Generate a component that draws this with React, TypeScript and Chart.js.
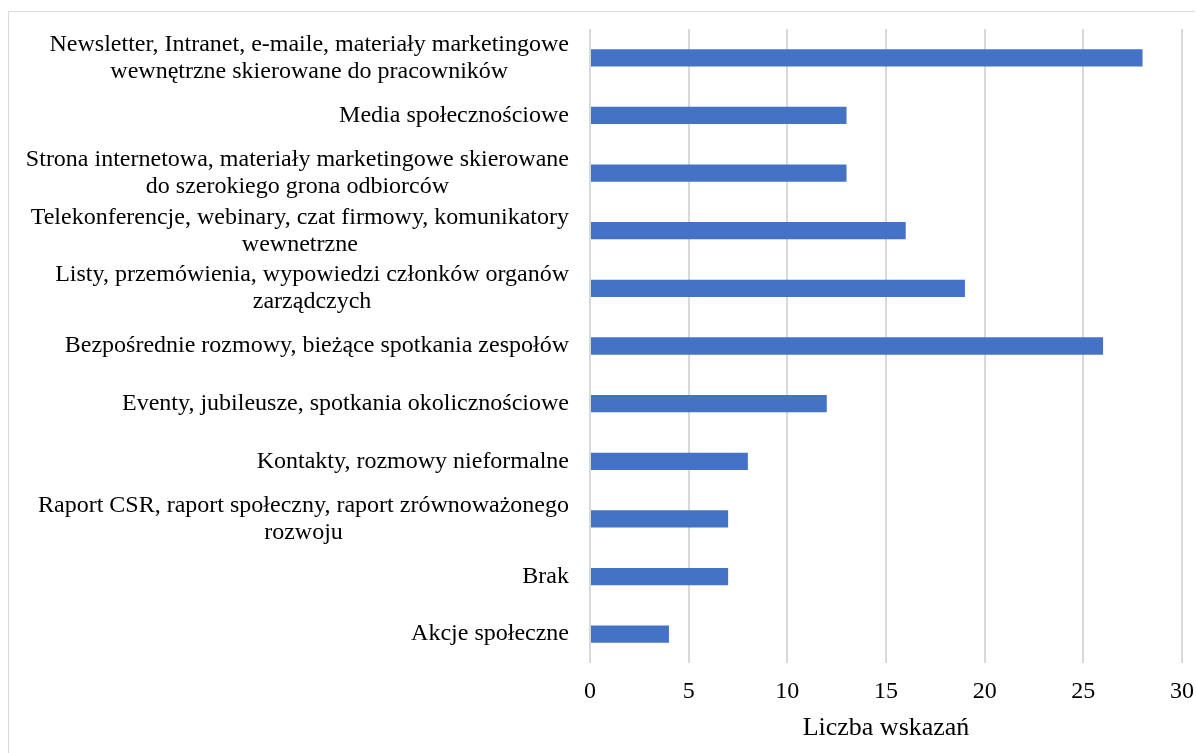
import React, { useEffect, useRef } from "react";
import { Chart, registerables } from "chart.js";

Chart.register(...registerables);

const categories: (string | string[])[] = [
  ["Newsletter, Intranet, e-maile, materiały marketingowe", "wewnętrzne skierowane do pracowników"],
  "Media społecznościowe",
  ["Strona internetowa, materiały marketingowe skierowane", "do szerokiego grona odbiorców"],
  ["Telekonferencje, webinary, czat firmowy, komunikatory", "wewnetrzne"],
  ["Listy, przemówienia, wypowiedzi członków organów", "zarządczych"],
  "Bezpośrednie rozmowy, bieżące spotkania zespołów",
  "Eventy, jubileusze, spotkania okolicznościowe",
  "Kontakty, rozmowy nieformalne",
  ["Raport CSR, raport społeczny, raport zrównoważonego", "rozwoju"],
  "Brak",
  "Akcje społeczne",
];

const values: number[] = [28, 13, 13, 16, 19, 26, 12, 8, 7, 7, 4];

const axisTitle = "Liczba wskazań";

const FONT = '"Liberation Serif", "Times New Roman", serif';
const LINE_H = 27;

const yLabelPlugin = {
  id: "yLabels",
  afterDraw(chart: any) {
    const ctx = chart.ctx;
    const y = chart.scales.y;
    ctx.save();
    ctx.font = `24px ${FONT}`;
    ctx.fillStyle = "#000000";
    ctx.textBaseline = "middle";
    ctx.textAlign = "center";
    const right = chart.chartArea.left - 21;
    categories.forEach((lab, i) => {
      const lines = Array.isArray(lab) ? lab : [lab];
      const w = Math.max(...lines.map((l) => ctx.measureText(l).width));
      const cx = right - w / 2;
      const cy = y.getPixelForTick(i);
      lines.forEach((l, j) => {
        ctx.fillText(l, cx, cy + (j - (lines.length - 1) / 2) * LINE_H);
      });
    });
    ctx.restore();
  },
};

export default function App() {
  const ref = useRef<HTMLCanvasElement | null>(null);

  useEffect(() => {
    if (!ref.current) return;
    const chart = new Chart(ref.current, {
      type: "bar",
      data: {
        labels: categories.map((c) => (Array.isArray(c) ? c.join(" ") : c)),
        datasets: [
          {
            data: values,
            backgroundColor: "#4472C4",
            borderWidth: 0,
            barPercentage: 0.3,
            categoryPercentage: 1,
          },
        ],
      },
      options: {
        indexAxis: "y",
        animation: false,
        responsive: false,
        layout: { padding: { top: 17, right: 13, left: 0, bottom: 8 } },
        plugins: {
          legend: { display: false },
          tooltip: { enabled: false },
        },
        scales: {
          x: {
            min: 0,
            max: 30,
            ticks: {
              stepSize: 5,
              color: "#000000",
              font: { family: FONT, size: 24 },
              padding: 14,
            },
            grid: { color: "#d9d9d9", lineWidth: 2, drawTicks: false },
            border: { display: false },
            title: {
              display: true,
              text: axisTitle,
              color: "#000000",
              font: { family: FONT, size: 26 },
              padding: 0,
            },
            afterFit(scale: any) {
              scale.height = 81;
              scale.paddingLeft = 0;
              scale.paddingRight = 0;
            },
          },
          y: {
            ticks: { display: false },
            grid: { display: false },
            border: { display: false },
            afterFit(scale: any) {
              scale.width = 581;
            },
          },
        },
      },
      plugins: [yLabelPlugin],
    });
    return () => chart.destroy();
  }, []);

  return (
    <div
      style={{
        position: "absolute",
        left: 8,
        top: 11,
        width: 1186,
        height: 742,
        borderTop: "1px solid #d9d9d9",
        borderLeft: "1px solid #d9d9d9",
        background: "#ffffff",
      }}
    >
      <canvas ref={ref} width={1186} height={740} style={{ display: "block" }} />
    </div>
  );
}
